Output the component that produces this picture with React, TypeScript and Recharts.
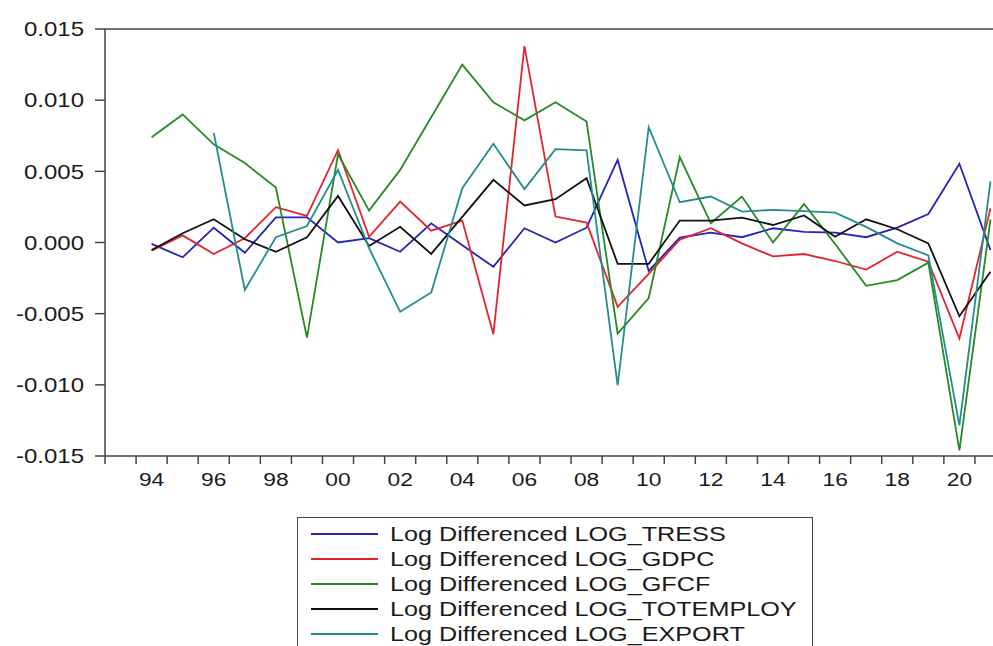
import { LineChart, Line, XAxis, YAxis, Legend, ReferenceLine } from "recharts"

// annual observations, first differences of the logs
const years = [
  1994, 1995, 1996, 1997, 1998, 1999, 2000, 2001, 2002, 2003, 2004, 2005, 2006, 2007,
  2008, 2009, 2010, 2011, 2012, 2013, 2014, 2015, 2016, 2017, 2018, 2019, 2020, 2021,
]

const tress = [
  -0.0001, -0.00104, 0.00104, -0.00072, 0.00177, 0.00177, 0.0, 0.0003, -0.00065, 0.00135,
  -0.0002, -0.0017, 0.001, 0.0, 0.00104, 0.0058, -0.002, 0.00035, 0.0007, 0.00037, 0.001,
  0.00075, 0.0007, 0.00037, 0.00104, 0.002, 0.00553, -0.00053,
]

const gdpc = [
  -0.00058, 0.0005, -0.00081, 0.0003, 0.00248, 0.00187, 0.0065, 0.0004, 0.00287, 0.00083,
  0.00154, -0.00644, 0.0138, 0.00182, 0.0014, -0.00452, -0.0022, 0.0002, 0.001, -0.00006,
  -0.00098, -0.00081, -0.0013, -0.0019, -0.00065, -0.00135, -0.00675, 0.0024,
]

const gfcf = [
  0.0074, 0.009, 0.0069, 0.00558, 0.00386, -0.00668, 0.0062, 0.00224, 0.0051, 0.0088, 0.0125,
  0.00985, 0.00858, 0.00985, 0.0085, -0.0064, -0.0039, 0.006, 0.00135, 0.00323, 0.0, 0.0027,
  -0.0001, -0.00304, -0.00264, -0.00142, -0.0146, 0.0016,
]

const totemploy = [
  -0.00053, 0.00065, 0.00163, 0.00023, -0.00065, 0.00037, 0.00327, -0.00025, 0.0011, -0.0008,
  0.0018, 0.0044, 0.0026, 0.00304, 0.00452, -0.0015, -0.0015, 0.00154, 0.00154, 0.00175,
  0.00123, 0.0019, 0.0004, 0.00163, 0.00093, -0.00006, -0.00518, -0.00206,
]

// export series starts in 1996
const exportSeries = [
  null, null, 0.0077, -0.00334, 0.00037, 0.00116, 0.0051, -0.0004, -0.00487, -0.00351, 0.00382,
  0.00694, 0.00375, 0.00656, 0.00647, -0.01003, 0.0081, 0.00283, 0.00323, 0.00217, 0.00229,
  0.0022, 0.0021, 0.0011, -0.00006, -0.0009, -0.01285, 0.0043,
]

const yTicks = [-0.015, -0.01, -0.005, 0, 0.005, 0.01, 0.015]

const seriesDefs = [
  { key: "tress", name: "Log Differenced LOG_TRESS", color: "#2424b4", values: tress },
  { key: "gdpc", name: "Log Differenced LOG_GDPC", color: "#e3242b", values: gdpc },
  { key: "gfcf", name: "Log Differenced LOG_GFCF", color: "#258a25", values: gfcf },
  { key: "totemploy", name: "Log Differenced LOG_TOTEMPLOY", color: "#111111", values: totemploy },
  { key: "export", name: "Log Differenced LOG_EXPORT", color: "#238c8c", values: exportSeries },
]

const data = years.map((year, i) => {
  const row: Record<string, number | null> = { year }
  seriesDefs.forEach((s) => {
    row[s.key] = s.values[i]
  })
  return row
})

const X_MIN = 1992.5
const X_MAX = 2021.5
// tick marks sit on year boundaries, labels in the middle of the year
const boundaries = Array.from({ length: X_MAX - X_MIN + 1 }, (_, i) => X_MIN + i)

const CHART_W = 1020
const CHART_H = 646
const Y_AXIS_W = 105
const MARGIN = { top: 29, right: 14, left: 0, bottom: 150 }
const PLOT_W = CHART_W - Y_AXIS_W - MARGIN.left - MARGIN.right
const HALF_YEAR = PLOT_W / (X_MAX - X_MIN) / 2

const FONT = '"Liberation Sans", Arial, sans-serif'
const AXIS = "#454545"
const STRETCH = 1.2

const XTick = (props: any) => {
  const { x, y, payload } = props
  const yr = payload.value + 0.5
  if (yr % 2 !== 0 || yr > 2020) return null
  return (
    <g transform={`translate(${x + HALF_YEAR},${y})`}>
      <text transform={`scale(${STRETCH},1)`} textAnchor="middle" dy="0.71em" fontSize={19} fontFamily={FONT} fill="#1a1a1a">
        {String(yr).slice(2)}
      </text>
    </g>
  )
}

const YTick = (props: any) => {
  const { x, y, payload } = props
  return (
    <g transform={`translate(${x},${y})`}>
      <text transform={`scale(${STRETCH},1)`} textAnchor="end" dy="0.36em" fontSize={20} fontFamily={FONT} fill="#1a1a1a">
        {Number(payload.value).toFixed(3)}
      </text>
    </g>
  )
}

const LegendBox = () => (
  <div
    style={{
      border: "1px solid #444",
      background: "#fff",
      height: 140,
      boxSizing: "border-box",
      paddingTop: 3,
      fontFamily: FONT,
    }}
  >
    {seriesDefs.map((s) => (
      <div key={s.key} style={{ height: 25, display: "flex", alignItems: "center" }}>
        <div style={{ marginLeft: 13, width: 67, height: 2, background: s.color, flex: "none" }} />
        <span
          style={{
            display: "inline-block",
            marginLeft: 12,
            fontSize: 21,
            color: "#1a1a1a",
            whiteSpace: "nowrap",
            transform: `scaleX(${STRETCH})`,
            transformOrigin: "left center",
          }}
        >
          {s.name}
        </span>
      </div>
    ))}
  </div>
)

export default function App() {
  return (
    <div style={{ position: "fixed", left: 0, top: 0, width: 993, height: 646, overflow: "hidden", background: "#fff" }}>
      <LineChart width={CHART_W} height={CHART_H} data={data} margin={MARGIN}>
        <XAxis
          dataKey="year"
          type="number"
          domain={[X_MIN, X_MAX]}
          ticks={boundaries}
          interval={0}
          height={40}
          tickSize={8}
          tickMargin={9}
          tick={XTick}
          axisLine={{ stroke: AXIS, strokeWidth: 1.5 }}
          tickLine={{ stroke: AXIS, strokeWidth: 1.5 }}
        />
        <YAxis
          type="number"
          domain={[-0.015, 0.015]}
          ticks={yTicks}
          interval={0}
          width={Y_AXIS_W}
          tickSize={10}
          tickMargin={11}
          tick={YTick}
          axisLine={{ stroke: AXIS, strokeWidth: 1.5 }}
          tickLine={{ stroke: AXIS, strokeWidth: 1.5 }}
        />
        <ReferenceLine y={0.015} stroke={AXIS} strokeWidth={1.5} />
        <ReferenceLine x={X_MAX} stroke={AXIS} strokeWidth={1.5} />
        {seriesDefs.map((s) => (
          <Line
            key={s.key}
            type="linear"
            dataKey={s.key}
            name={s.name}
            stroke={s.color}
            strokeWidth={1.8}
            dot={false}
            activeDot={false}
            isAnimationActive={false}
          />
        ))}
        <Legend
          layout="vertical"
          align="center"
          verticalAlign="middle"
          content={LegendBox}
          wrapperStyle={{ left: 297, top: 517, width: 516, height: 140 }}
        />
      </LineChart>
    </div>
  )
}
